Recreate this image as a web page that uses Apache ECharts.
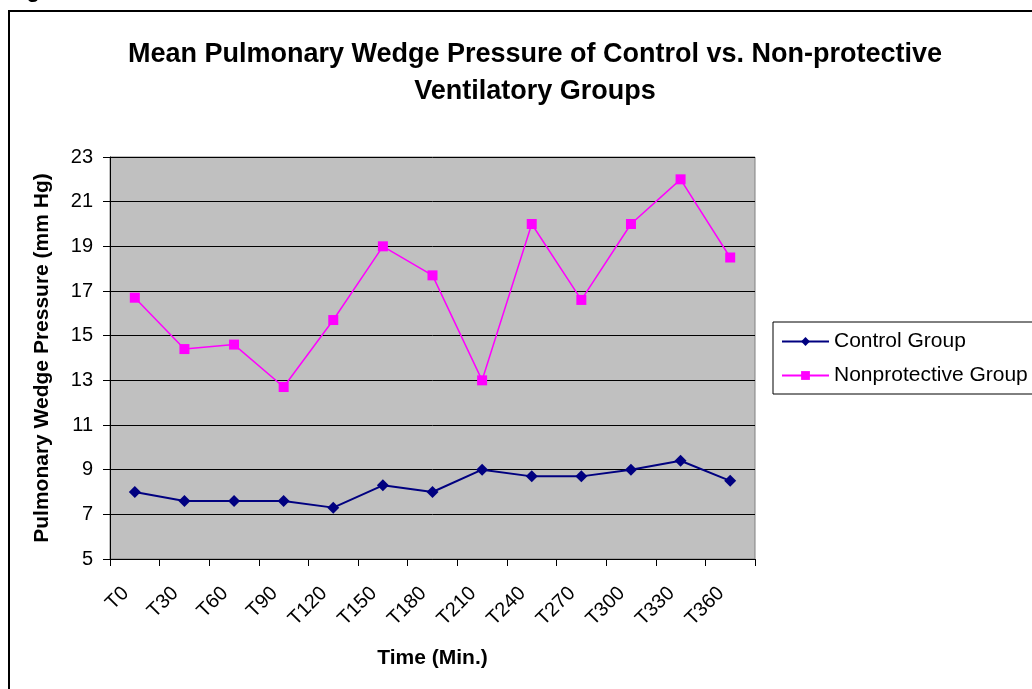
<!DOCTYPE html>
<html>
<head>
<meta charset="utf-8">
<script src="https://cdn.jsdelivr.net/npm/echarts@6/dist/echarts.min.js"></script>
<style>
  html, body { margin: 0; padding: 0; background: #fff; }
  #chart { width: 1032px; height: 689px; }
</style>
</head>
<body>
<div id="chart"></div>
<script>
// time points (x axis)
const categories = ['T0', 'T30', 'T60', 'T90', 'T120', 'T150', 'T180',
  'T210', 'T240', 'T270', 'T300', 'T330', 'T360'];

// mean pulmonary wedge pressure, mm Hg
const controlGroup = [8.0, 7.6, 7.6, 7.6, 7.3, 8.3, 8.0, 9.0, 8.7, 8.7, 9.0, 9.4, 8.5];
const nonprotectiveGroup = [16.7, 14.4, 14.6, 12.7, 15.7, 19.0, 17.7, 13.0, 20.0, 16.6, 20.0, 22.0, 18.5];

// y axis range
const yMin = 5;
const yMax = 23;
const yStep = 2;

const font = '"Liberation Sans", Arial, sans-serif';

let chart = echarts.init(document.getElementById('chart'), null, {renderer: 'canvas'});

let option = {
  animation: false,
  backgroundColor: '#fff',
  title: {
    text: 'Mean Pulmonary Wedge Pressure of Control vs. Non-protective\nVentilatory Groups',
    left: 530,
    top: 31,
    textAlign: 'center',
    textStyle: {
      fontFamily: font,
      fontWeight: 'bold',
      fontSize: 27,
      lineHeight: 37,
      color: '#000'
    }
  },
  legend: {
    orient: 'vertical',
    left: 773,
    top: 322,
    padding: [9, 40, 8, 8],
    itemGap: 13,
    itemWidth: 47,
    itemHeight: 11,
    borderColor: '#000',
    borderWidth: 1,
    borderRadius: 0,
    textStyle: {
      fontFamily: font,
      fontSize: 21,
      color: '#000'
    },
    data: ['Control Group', 'Nonprotective Group']
  },
  grid: {
    left: 110,
    right: 277,
    top: 157,
    bottom: 130,
    show: true,
    backgroundColor: '#c0c0c0',
    borderColor: '#808080',
    borderWidth: 1
  },
  xAxis: {
    type: 'category',
    data: categories,
    boundaryGap: true,
    name: 'Time (Min.)',
    nameLocation: 'middle',
    nameGap: 89,
    nameTextStyle: {
      fontFamily: font,
      fontWeight: 'bold',
      fontSize: 21,
      color: '#000'
    },
    axisLine: {lineStyle: {color: '#000', width: 1}},
    axisTick: {show: true, length: 7, alignWithLabel: false, lineStyle: {color: '#000'}},
    axisLabel: {
      rotate: 45,
      margin: 22,
      interval: 0,
      padding: [0, 13, 9, 0],
      fontFamily: font,
      fontSize: 20,
      color: '#000'
    },
    splitLine: {show: false}
  },
  yAxis: {
    type: 'value',
    min: yMin,
    max: yMax,
    interval: yStep,
    name: 'Pulmonary Wedge Pressure (mm Hg)',
    nameLocation: 'middle',
    nameRotate: 90,
    nameGap: 57,
    nameTextStyle: {
      fontFamily: font,
      fontWeight: 'bold',
      fontSize: 21,
      color: '#000'
    },
    axisLine: {show: true, lineStyle: {color: '#000', width: 1}},
    axisTick: {show: true, length: 7, lineStyle: {color: '#000'}},
    axisLabel: {
      margin: 17,
      fontFamily: font,
      fontSize: 20,
      color: '#000'
    },
    splitLine: {show: true, lineStyle: {color: '#000', width: 1}}
  },
  series: [
    {
      name: 'Control Group',
      type: 'line',
      data: controlGroup,
      symbol: 'diamond',
      symbolSize: 12,
      color: '#000080',
      lineStyle: {color: '#000080', width: 2},
      itemStyle: {color: '#000080'}
    },
    {
      name: 'Nonprotective Group',
      type: 'line',
      data: nonprotectiveGroup,
      symbol: 'rect',
      symbolSize: 10,
      color: '#ff00ff',
      lineStyle: {color: '#ff00ff', width: 1.5},
      itemStyle: {color: '#ff00ff'}
    }
  ],
  graphic: [
    {
      type: 'rect',
      shape: {x: 9, y: 11, width: 1040, height: 700},
      style: {fill: 'none', stroke: '#000', lineWidth: 2},
      z: 100
    },
    {
      type: 'text',
      x: 7,
      y: 2,
      style: {
        text: 'Figure',
        font: 'bold 22px ' + font,
        fill: '#000',
        verticalAlign: 'bottom'
      }
    }
  ]
};

chart.setOption(option);
</script>
</body>
</html>
